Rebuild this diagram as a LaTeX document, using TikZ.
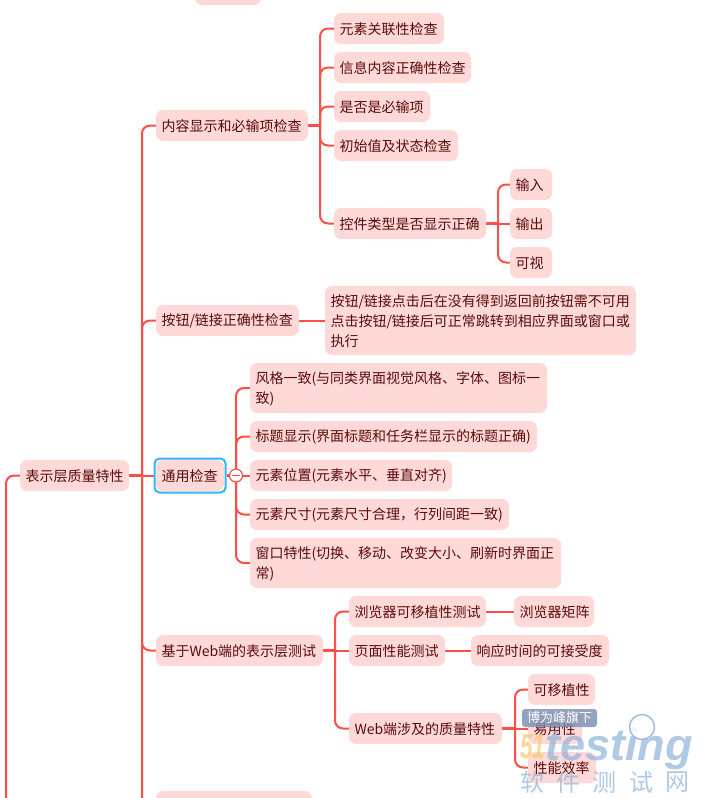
\documentclass[tikz,border=0pt]{standalone}
\usepackage{fontspec}
\setmainfont{Noto Sans CJK SC}
\newfontfamily\wmlatin{Liberation Sans}
\usetikzlibrary{backgrounds}
\definecolor{linkred}{HTML}{FF4D47}
\definecolor{boxfill}{HTML}{FFD9D8}
\definecolor{boxtext}{HTML}{5A0B0B}
\definecolor{selblue}{HTML}{2DB7F5}
\definecolor{wmblue}{HTML}{8FB2DA}
\definecolor{wmtag}{HTML}{7F93B4}
\definecolor{wmgold}{HTML}{F9C868}
\tikzset{
  topicbox/.style={fill=boxfill,rounded corners=7pt,inner ysep=0pt,inner xsep=5.5pt,align=left,
    text=boxtext,font=\fontsize{14}{20}\selectfont},
  selectbox/.style={draw=selblue,line width=2pt,rounded corners=5pt,inner sep=0pt,fill=none},
  conn/.style={draw=linkred,line width=2pt,rounded corners=8pt},
  stem/.style={draw=linkred,line width=3pt},
  foldmark/.style={circle,draw=linkred,fill=white,line width=1.2pt,minimum size=13pt,inner sep=0pt},
  wmtext/.style={text=wmblue,opacity=.7,inner sep=0pt}
}
\newcommand\topicstrut{\rule[-1pt]{0pt}{14.3pt}}
\newcommand\topicnode[6]{%
  \pgfmathsetmacro\nodew{#3-#2-11}\pgfmathsetmacro\nodeh{#5-#4}%
  \node[topicbox,text width=\nodew pt,minimum height=\nodeh pt] (#1) at ({(#2+#3)/2},{(#4+#5)/2}) {\topicstrut#6\topicstrut};}
\newcommand\forkstem[2]{\draw[stem] (#1.east) -- (#2 |- #1.east);}
\newcommand\forkto[3]{\draw[conn] (#2 |- #1.east) -- (#2 |- #3.west) -- (#3.west);}
\begin{document}
\begin{tikzpicture}[x=1pt,y=-1pt]
\useasboundingbox (0,0) rectangle (709,798);
\clip (0,0) rectangle (709,798);
\topicnode{topstub}{195}{261}{-26}{5}{}
\topicnode{root}{20}{129}{460}{491}{表示层质量特性}
\topicnode{content}{156}{308}{110}{141}{内容显示和必输项检查}
\topicnode{assoc}{334}{444}{13}{44}{元素关联性检查}
\topicnode{infook}{334}{471}{52}{83}{信息内容正确性检查}
\topicnode{required}{334}{430}{91}{122}{是否是必输项}
\topicnode{initval}{334}{458}{130}{161}{初始值及状态检查}
\topicnode{ctrltype}{334}{486}{208}{239}{控件类型是否显示正确}
\topicnode{inputn}{510}{552}{169}{200}{输入}
\topicnode{outputn}{510}{552}{208}{239}{输出}
\topicnode{visible}{510}{552}{247}{278}{可视}
\topicnode{button}{156}{299}{305}{336}{按钮/链接正确性检查}
\topicnode{buttonlong}{325}{636}{286}{355}{按钮/链接点击后在没有得到返回前按钮需不可用\\点击按钮/链接后可正常跳转到相应界面或窗口或\\执行}
\topicnode{general}{156}{224}{460}{491}{通用检查}
\node[selectbox,minimum width=71pt,minimum height=34pt] (selected) at (190,475.5) {};
\topicnode{style}{250}{547}{363}{413}{风格一致(与同类界面视觉风格、字体、图标一\\致)}
\topicnode{title}{250}{537}{421}{452}{标题显示(界面标题和任务栏显示的标题正确)}
\topicnode{position}{250}{452}{460}{491}{元素位置(元素水平、垂直对齐)}
\topicnode{size}{250}{509}{499}{530}{元素尺寸(元素尺寸合理，行列间距一致)}
\topicnode{window}{250}{561}{538}{588}{窗口特性(切换、移动、改变大小、刷新时界面正\\常)}
\topicnode{web}{156}{323}{635}{666}{基于Web端的表示层测试}
\topicnode{portable}{349}{486}{596}{627}{浏览器可移植性测试}
\topicnode{matrix}{514}{594}{596}{627}{浏览器矩阵}
\topicnode{pageperf}{349}{445}{635}{666}{页面性能测试}
\topicnode{respond}{471}{609}{635}{666}{响应时间的可接受度}
\topicnode{quality}{349}{502}{713}{744}{Web端涉及的质量特性}
\topicnode{qport}{528}{595}{674}{705}{可移植性}
\topicnode{qease}{528}{582}{713}{744}{易用性}
\topicnode{qperf}{528}{596}{752}{783}{性能效率}
\topicnode{bottomstub}{156}{312}{791}{822}{}
\node[foldmark] (fold) at (236,475.5) {};
\draw[linkred,line width=1pt] ([xshift=-4pt]fold.center) -- ([xshift=4pt]fold.center);
\coordinate (fmain) at (142,0);
\coordinate (fcontent) at (320,0);
\coordinate (fctrl) at (498,0);
\coordinate (fgeneral) at (236,0);
\coordinate (fweb) at (335,0);
\coordinate (fquality) at (515,0);
\coordinate (leftrail) at (6,798);
\begin{scope}[on background layer]
\draw[conn] (root.west) -| (leftrail);
\forkto{root}{fmain}{content}
\forkto{root}{fmain}{button}
\draw[conn] (fmain |- root.east) -- (selected.west);
\forkto{root}{fmain}{web}
\forkto{root}{fmain}{bottomstub}
\forkstem{root}{fmain}
\forkto{content}{fcontent}{assoc}
\forkto{content}{fcontent}{infook}
\forkto{content}{fcontent}{required}
\forkto{content}{fcontent}{initval}
\forkto{content}{fcontent}{ctrltype}
\forkstem{content}{fcontent}
\forkto{ctrltype}{fctrl}{inputn}
\draw[conn] (fctrl |- ctrltype.east) -- (outputn.west);
\forkto{ctrltype}{fctrl}{visible}
\forkstem{ctrltype}{fctrl}
\draw[conn] (button.east) -- (buttonlong.west |- button.east);
\forkto{selected}{fgeneral}{style}
\forkto{selected}{fgeneral}{title}
\draw[conn] (fgeneral |- selected.east) -- (position.west);
\forkto{selected}{fgeneral}{size}
\forkto{selected}{fgeneral}{window}
\forkstem{selected}{fgeneral}
\forkto{web}{fweb}{portable}
\draw[conn] (fweb |- web.east) -- (pageperf.west);
\forkto{web}{fweb}{quality}
\forkstem{web}{fweb}
\draw[conn] (portable.east) -- (matrix.west);
\draw[conn] (pageperf.east) -- (respond.west);
\forkto{quality}{fquality}{qport}
\draw[conn] (fquality |- quality.east) -- (qease.west);
\forkto{quality}{fquality}{qperf}
\forkstem{quality}{fquality}
\end{scope}
% watermark
\node[fill=wmtag,opacity=.85,text opacity=1,text=white,rounded corners=3pt,minimum width=75pt,minimum height=18pt,inner sep=0pt,font=\fontsize{13}{13}\selectfont] (wmtag) at (559.5,718) {博为峰旗下};
\node[anchor=base west,inner sep=0pt,text=wmgold,opacity=.7,xscale=.65,transform shape,font=\wmlatin\bfseries\itshape\fontsize{35}{35}\selectfont] (wmfifty) at (520,758) {51};
\node[anchor=base west,wmtext,font=\wmlatin\bfseries\itshape\fontsize{45}{45}\selectfont] (wmtesting) at (545,760) {testing};
\node[circle,draw=wmblue,fill=white,opacity=.85,line width=1.5pt,minimum size=25pt,inner sep=0pt] (wmlens) at (642,727) {};
\foreach \wch/\wx in {软/532,件/568,测/604,试/641,网/677}{
  \node[wmtext,font=\fontsize{24}{24}\selectfont] (wm\wx) at (\wx,782) {\wch};
}
\end{tikzpicture}
\end{document}
